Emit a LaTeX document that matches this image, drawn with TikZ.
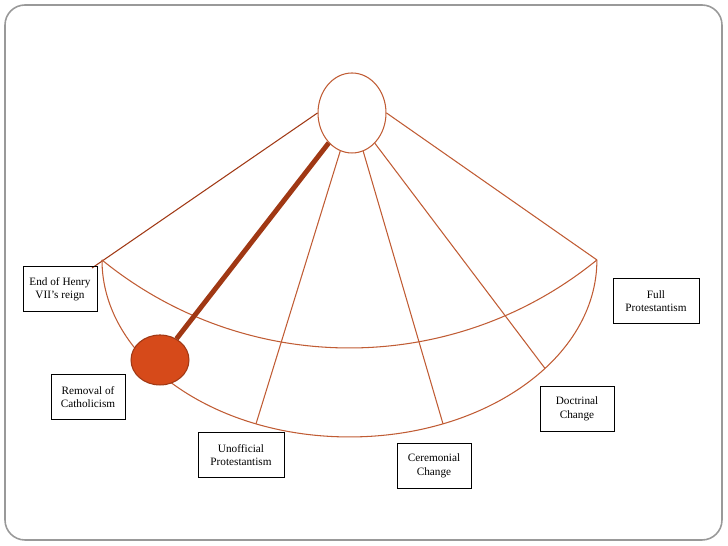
\documentclass[tikz,border=0pt]{standalone}
\usepackage{fontspec}
\setmainfont{Liberation Serif}
\usetikzlibrary{shapes.geometric,calc}
\definecolor{cobre}{RGB}{192,92,52}
\definecolor{cobreoscuro}{RGB}{160,56,20}
\definecolor{naranja}{RGB}{214,74,26}
\tikzset{
  etapa/.style={draw=black, line width=0.55pt, minimum width=1.48cm, minimum height=0.92cm,
    align=center, inner sep=1pt, font=\fontsize{6.4}{7.6}\selectfont},
  ancha/.style={etapa, minimum width=1.72cm},
  hilo/.style={draw=cobre, line width=0.6pt}
}
\begin{document}
\begin{tikzpicture}[x=0.02cm, y=0.02cm]
    \useasboundingbox (0,0) rectangle (728,546);
    % Marco
    \draw[gray!80, line width=0.9pt, rounded corners=0.4cm] (5,6) rectangle (722,541);

    % Pivote y puntos del abanico
    \node[ellipse, hilo, minimum width=1.36cm, minimum height=1.6cm, inner sep=0pt] (pivote) at (352,433) {};
    \coordinate (centro) at (349.5,286);
    \coordinate (izq) at (102,286);
    \coordinate (der) at (597,286);
    \coordinate (extremo) at (92,278);
    \coordinate (r1) at ($(centro)+(247.8:4.95cm and 3.54cm)$);
    \coordinate (r2) at ($(centro)+(292.2:4.95cm and 3.54cm)$);
    \coordinate (r3) at ($(centro)+(322.2:4.95cm and 3.54cm)$);

    % Lados del abanico
    \draw[cobreoscuro, line width=0.6pt] (pivote.west) -- (extremo);
    \draw[hilo] (pivote.east) -- (der);

    % Arcos
    \draw[hilo] (izq) arc[start angle=230.85, end angle=309.15, radius=7.84cm];
    \draw[hilo] (izq) arc[start angle=180, end angle=360, x radius=4.95cm, y radius=3.54cm];

    % Radios
    \draw[hilo] (pivote) -- (r1);
    \draw[hilo] (pivote) -- (r2);
    \draw[hilo] (pivote) -- (r3);

    % Varilla y bola
    \node[ellipse, draw=cobreoscuro, fill=naranja, line width=0.6pt, minimum width=1.16cm, minimum height=1cm, inner sep=0pt] (bola) at (160,186) {};
    \draw[cobreoscuro, line width=2.8pt] (pivote) -- (bola);

    % Etapas
    \node[etapa] (henry) at (60,257) {End of Henry\\VII's reign};
    \node[etapa] (catolicismo) at (88,149) {Removal of\\Catholicism};
    \node[ancha] (oficioso) at (241,91) {Unofficial\\Protestantism};
    \node[etapa] (ceremonial) at (434,80) {Ceremonial\\Change};
    \node[etapa] (doctrinal) at (577,137) {Doctrinal\\Change};
    \node[ancha] (plena) at (656,245) {Full\\Protestantism};
\end{tikzpicture}
\end{document}
